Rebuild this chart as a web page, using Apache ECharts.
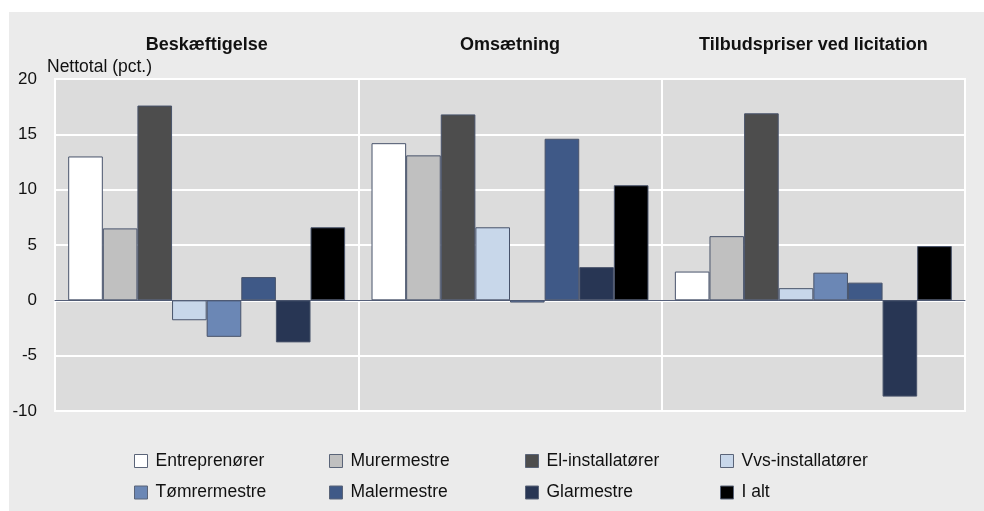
<!DOCTYPE html>
<html>
<head>
<meta charset="utf-8">
<script src="https://cdn.jsdelivr.net/npm/echarts@6/dist/echarts.min.js"></script>
<style>
html,body{margin:0;padding:0;background:#ffffff;}
#chart{width:984px;height:511px;}
</style>
</head>
<body>
<div id="chart"></div>
<script>
var categories = ['Beskæftigelse', 'Omsætning', 'Tilbudspriser ved licitation'];
var seriesNames = ['Entreprenører', 'Murermestre', 'El-installatører', 'Vvs-installatører', 'Tømrermestre', 'Malermestre', 'Glarmestre', 'I alt'];
var entreprenorer = [13.0, 14.2, 2.6];
var murermestre = [6.5, 13.1, 5.8];
var elInstallatorer = [17.6, 16.8, 16.9];
var vvsInstallatorer = [-1.8, 6.6, 1.1];
var tomrermestre = [-3.3, -0.2, 2.5];
var malermestre = [2.1, 14.6, 1.6];
var glarmestre = [-3.8, 3.0, -8.7];
var iAlt = [6.6, 10.4, 4.9];
var yTicks = [-10, -5, 0, 5, 10, 15, 20];

var seriesValues = [entreprenorer, murermestre, elInstallatorer, vvsInstallatorer, tomrermestre, malermestre, glarmestre, iAlt];
var colors = ['#ffffff', '#c0c0c0', '#4d4d4d', '#c8d7ea', '#6b87b5', '#3f5987', '#283654', '#000000'];
var FONT = "'Liberation Sans', Arial, sans-serif";

var chart = echarts.init(document.getElementById('chart'), null, {renderer: 'canvas'});

var series = seriesNames.map(function (name, i) {
  return {
    name: name,
    type: 'bar',
    xAxisIndex: 0,
    yAxisIndex: 0,
    data: seriesValues[i],
    barGap: '0%',
    barCategoryGap: '8.7%',
    itemStyle: {color: colors[i], borderColor: '#48536b', borderWidth: 1},
    emphasis: {disabled: true},
    animation: false
  };
});

var legendLefts = [134, 329, 525, 720];
var legendTops = [452, 483.5];
var legends = seriesNames.map(function (name, i) {
  return {
    data: [name],
    left: legendLefts[i % 4],
    top: legendTops[Math.floor(i / 4)],
    padding: 0,
    itemWidth: 13,
    itemHeight: 13,
    icon: 'rect',
    selectedMode: false,
    itemStyle: {borderWidth: 1, borderColor: '#5a6478'},
    textStyle: {fontFamily: FONT, fontSize: 17.5, color: '#111111', padding: [0, 0, 0, 3]}
  };
});

var option = {
  animation: false,
  backgroundColor: '#ffffff',
  color: colors,
  graphic: [{
    type: 'rect', z: -10, silent: true,
    shape: {x: 9, y: 12, width: 975, height: 499},
    style: {fill: '#ebebeb'}
  }],
  title: {
    text: 'Nettotal (pct.)',
    left: 47, top: 58.5, padding: 0,
    textStyle: {fontFamily: FONT, fontSize: 17.5, fontWeight: 'normal', color: '#111111'}
  },
  legend: legends,
  grid: {
    left: 55, right: 19, top: 79, bottom: 100,
    show: true, backgroundColor: '#dcdcdc', borderColor: '#ffffff', borderWidth: 2,
    containLabel: false
  },
  xAxis: [{
    type: 'category',
    data: categories,
    position: 'bottom',
    axisLine: {show: true, onZero: true, lineStyle: {color: '#56607a', width: 1}},
    axisTick: {show: false},
    axisLabel: {show: false},
    splitLine: {show: true, lineStyle: {color: '#ffffff', width: 2}}
  }, {
    type: 'category',
    data: categories,
    position: 'top',
    axisLine: {show: false},
    axisTick: {show: false},
    splitLine: {show: false},
    axisLabel: {show: true, margin: 25, fontFamily: FONT, fontSize: 18, fontWeight: 'bold', color: '#111111'}
  }],
  yAxis: {
    type: 'value',
    min: yTicks[0], max: yTicks[yTicks.length - 1], interval: 5,
    axisLine: {show: false},
    axisTick: {show: false},
    axisLabel: {margin: 18, fontFamily: FONT, fontSize: 17, color: '#111111'},
    splitLine: {show: true, lineStyle: {color: '#ffffff', width: 2}}
  },
  series: series
};
chart.setOption(option);
</script>
</body>
</html>
